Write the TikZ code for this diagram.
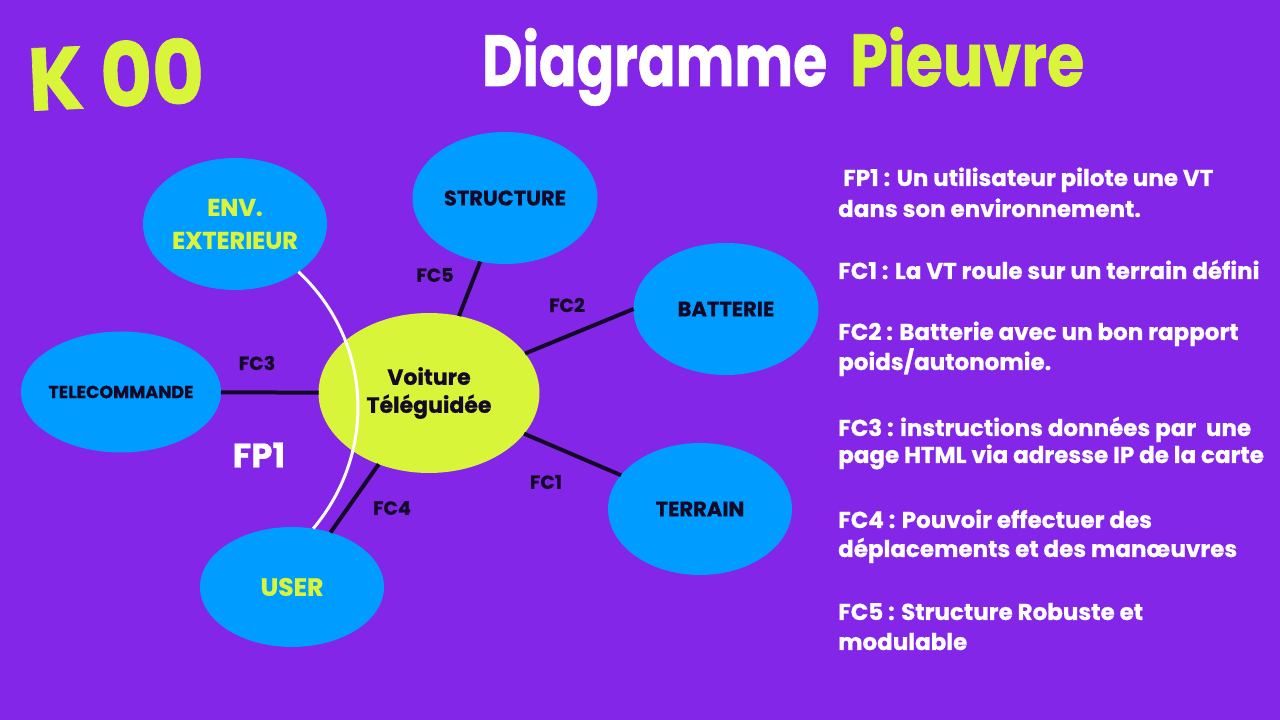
\documentclass[tikz,border=0pt]{standalone}
\usepackage{fontspec}
\setmainfont{Poppins}[BoldFeatures={FakeBold=0.8}]
\usetikzlibrary{shapes.geometric}
\definecolor{bg}{RGB}{131,38,232}
\definecolor{bluef}{RGB}{0,156,255}
\definecolor{lime}{RGB}{217,245,58}
\definecolor{ink}{RGB}{20,10,40}
\begin{document}
\begin{tikzpicture}[x=1pt,y=1pt,
  bubble/.style={ellipse, fill=bluef, inner xsep=-40pt, inner ysep=0pt, outer sep=0pt,
    font=\fontsize{21}{33}\selectfont\bfseries, text=ink, align=center},
  hub/.style={ellipse, fill=lime, inner xsep=-40pt, inner ysep=0pt, outer sep=0pt,
    font=\fontsize{22}{28}\selectfont\bfseries, text=ink, align=center},
  link/.style={draw=ink, line width=4pt},
  fclabel/.style={font=\fontsize{19}{22}\selectfont\bfseries, text=ink, inner sep=0pt},
  desc/.style={anchor=base west, font=\fontsize{23}{26}\selectfont\bfseries, text=white, inner sep=0pt}]
\useasboundingbox (0,0) rectangle (1280,720);
\fill[bg] (0,0) rectangle (1280,720);

% title
\node[inner sep=0pt, rotate=2.5, text=lime, font=\bfseries] (k) at (116,646) {\resizebox{176pt}{66pt}{K 00}};
\node[anchor=base west, inner sep=0pt, text=white, font=\bfseries] (t1) at (482,634) {\resizebox{345pt}{58pt}{Diagramme}};
\node[anchor=base west, inner sep=0pt, text=lime, font=\bfseries] (t2) at (850,634) {\resizebox{234pt}{59pt}{Pieuvre}};

% nodes
\node[bubble, minimum width=184pt, minimum height=132pt, font=\fontsize{24}{33}\selectfont\bfseries, text=lime] (env) at (235,496) {ENV.\\EXTERIEUR};
\node[bubble, minimum width=185pt, minimum height=132pt] (structure) at (505,522) {STRUCTURE};
\node[bubble, minimum width=185pt, minimum height=132pt] (batterie) at (726,411) {BATTERIE};
\node[bubble, minimum width=200pt, minimum height=121pt, font=\fontsize{17.5}{22}\selectfont\bfseries] (tele) at (121,328) {TELECOMMANDE};
\node[hub, minimum width=221pt, minimum height=160pt] (vt) at (429,327) {Voiture\\Téléguidée};
\node[bubble, minimum width=184pt, minimum height=132pt] (terrain) at (700,211) {TERRAIN};
\node[bubble, minimum width=184pt, minimum height=120pt, font=\fontsize{25}{30}\selectfont\bfseries, text=lime] (user) at (292,133) {USER};

% connectors
\draw[link] (vt) -- (structure);
\draw[link] (vt) -- (batterie.west);
\draw[link] (vt) -- (tele);
\draw[link] (vt) -- (terrain);
\draw[link] (vt) -- (user);
\draw[white, line width=3pt] (env.-37) to[out=-43, in=50] (user.70);

% labels
\node[fclabel] (l5) at (435,445) {FC5};
\node[fclabel] (l2) at (567,415) {FC2};
\node[fclabel] (l3) at (257,357) {FC3};
\node[fclabel] (l1) at (546,238) {FC1};
\node[fclabel] (l4) at (392,212) {FC4};
\node[font=\fontsize{34}{40}\selectfont\bfseries, text=white, inner sep=0pt] (fp1) at (259,265) {FP1};

% description
\node[desc] (d1) at (843,534) {FP1 : Un utilisateur pilote une VT};
\node[desc] (d2) at (838,503) {dans son environnement.};
\node[desc] (d3) at (838,441) {FC1 : La VT roule sur un terrain défini};
\node[desc] (d4) at (838,380) {FC2 : Batterie avec un bon rapport};
\node[desc] (d5) at (838,350) {poids/autonomie.};
\node[desc] (d6) at (838,284) {FC3 : instructions données par\ \ une};
\node[desc] (d7) at (838,257) {page HTML via adresse IP de la carte};
\node[desc] (d8) at (838,192) {FC4 : Pouvoir effectuer des};
\node[desc] (d9) at (838,163) {déplacements et des manœuvres};
\node[desc] (d10) at (838,100) {FC5 : Structure Robuste et};
\node[desc] (d11) at (838,70) {modulable};
\end{tikzpicture}
\end{document}
